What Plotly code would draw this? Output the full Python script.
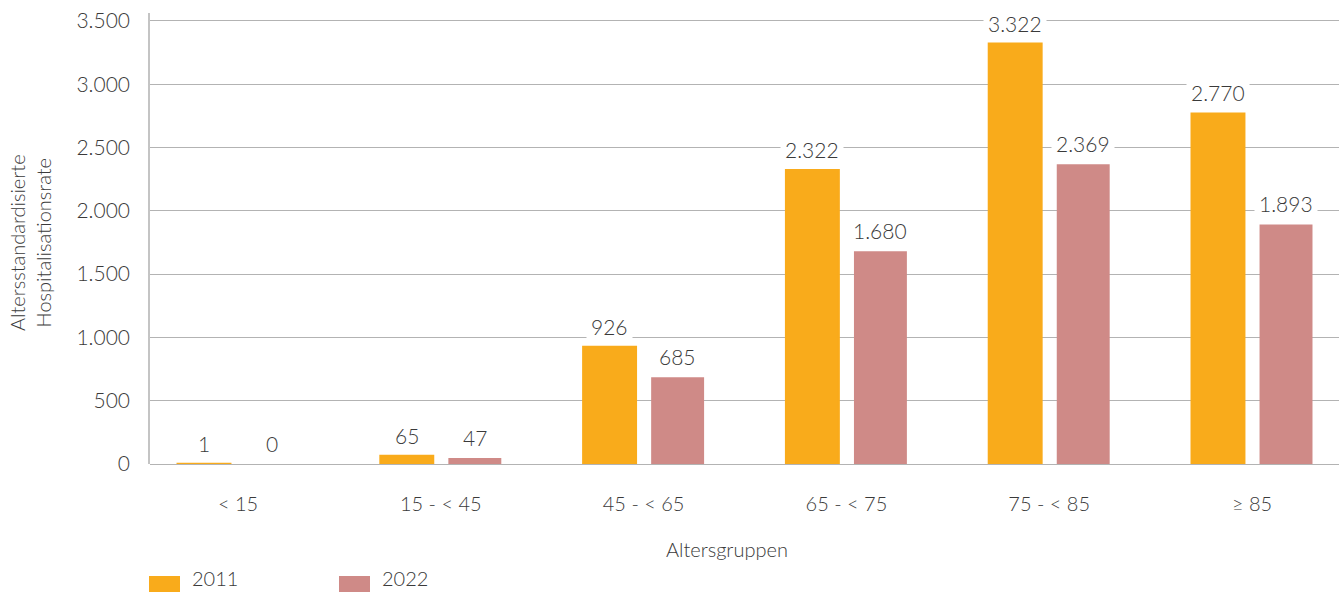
import plotly.graph_objects as go

categories = ["< 15", "15 - < 45", "45 - < 65", "65 - < 75", "75 - < 85", "≥ 85"]
values_2011 = [1, 65, 926, 2322, 3322, 2770]
values_2022 = [0, 47, 685, 1680, 2369, 1893]
series_names = ["2011", "2022"]
y_ticks = [0, 500, 1000, 1500, 2000, 2500, 3000, 3500]

C2011 = "#F9AB1B"
C2022 = "#CF8A87"
TXT = "#3a3a3a"
FONT = "Lato"
FW = 300
W, H = 1339, 592
ML, MR, MT, MB = 150, 0, 13, 128
PW = W - ML - MR
PH = H - MT - MB


def fmt(v):
    return f"{v:,}".replace(",", ".")


fig = go.Figure()
fig.add_trace(go.Bar(x=categories, y=values_2011, name=series_names[0],
                     marker=dict(color=C2011, line=dict(color=C2011, width=2)),
                     showlegend=False))
fig.add_trace(go.Bar(x=categories, y=values_2022, name=series_names[1],
                     marker=dict(color=C2022, line=dict(width=0)),
                     showlegend=False))

annotations = []
for vals, shift in ((values_2011, -34), (values_2022, 34)):
    for c, v in zip(categories, vals):
        annotations.append(dict(
            x=c, y=v, xref="x", yref="y", text=fmt(v), showarrow=False,
            xshift=shift, yshift=3, yanchor="bottom", bgcolor="white", borderpad=4,
            font=dict(family=FONT, size=21, color=TXT, weight=FW)))

# axis titles
annotations.append(dict(x=(727 - ML) / PW, y=(H - MB - 549) / PH, xref="paper", yref="paper",
                        text="Altersgruppen", showarrow=False, xanchor="center", yanchor="middle",
                        font=dict(family=FONT, size=20, color=TXT, weight=FW)))
annotations.append(dict(x=(30 - ML) / PW, y=(H - MB - 243) / PH, xref="paper", yref="paper",
                        text="Altersstandardisierte<br>Hospitalisationsrate", showarrow=False,
                        textangle=-90, xanchor="center", yanchor="middle",
                        font=dict(family=FONT, size=20, color=TXT, weight=FW)))

# custom legend
shapes = []
for name, col, x0 in ((series_names[0], C2011, 149), (series_names[1], C2022, 339)):
    shapes.append(dict(type="rect", xref="paper", yref="paper",
                       x0=(x0 - ML) / PW, x1=(x0 + 31 - ML) / PW,
                       y0=(H - MB - 592) / PH, y1=(H - MB - 576) / PH,
                       fillcolor=col, line=dict(width=0)))
    annotations.append(dict(x=(x0 + 41 - ML) / PW, y=(H - MB - 592) / PH, xref="paper", yref="paper",
                            text=name, showarrow=False, xanchor="left", yanchor="bottom",
                            font=dict(family=FONT, size=20, color=TXT, weight=FW)))

fig.update_layout(
    width=W, height=H,
    margin=dict(l=ML, r=MR, t=MT, b=MB, pad=0),
    plot_bgcolor="white", paper_bgcolor="white",
    barmode="group", bargap=0.329, bargroupgap=0.222,
    font=dict(family=FONT, size=21, color=TXT, weight=FW),
    annotations=annotations, shapes=shapes, showlegend=False,
)
fig.update_xaxes(range=[-0.434, 5.429], showgrid=False, showline=False, ticks="",
                 ticklabelstandoff=26, tickfont=dict(family=FONT, size=20, color=TXT, weight=FW))
fig.update_yaxes(range=[0, 3563], tickvals=y_ticks, ticktext=[fmt(t) for t in y_ticks],
                 showgrid=True, gridcolor="#b3b3b3", gridwidth=1,
                 zeroline=True, zerolinecolor="#b3b3b3", zerolinewidth=1,
                 showline=True, linecolor="#c4c4c4", linewidth=1.5,
                 ticks="", ticklabelstandoff=14,
                 tickfont=dict(family=FONT, size=21, color=TXT, weight=FW))

fig.write_html("out.html", config={"displayModeBar": False},
               post_script="document.body.style.margin='0px';document.body.style.overflow='hidden';")
